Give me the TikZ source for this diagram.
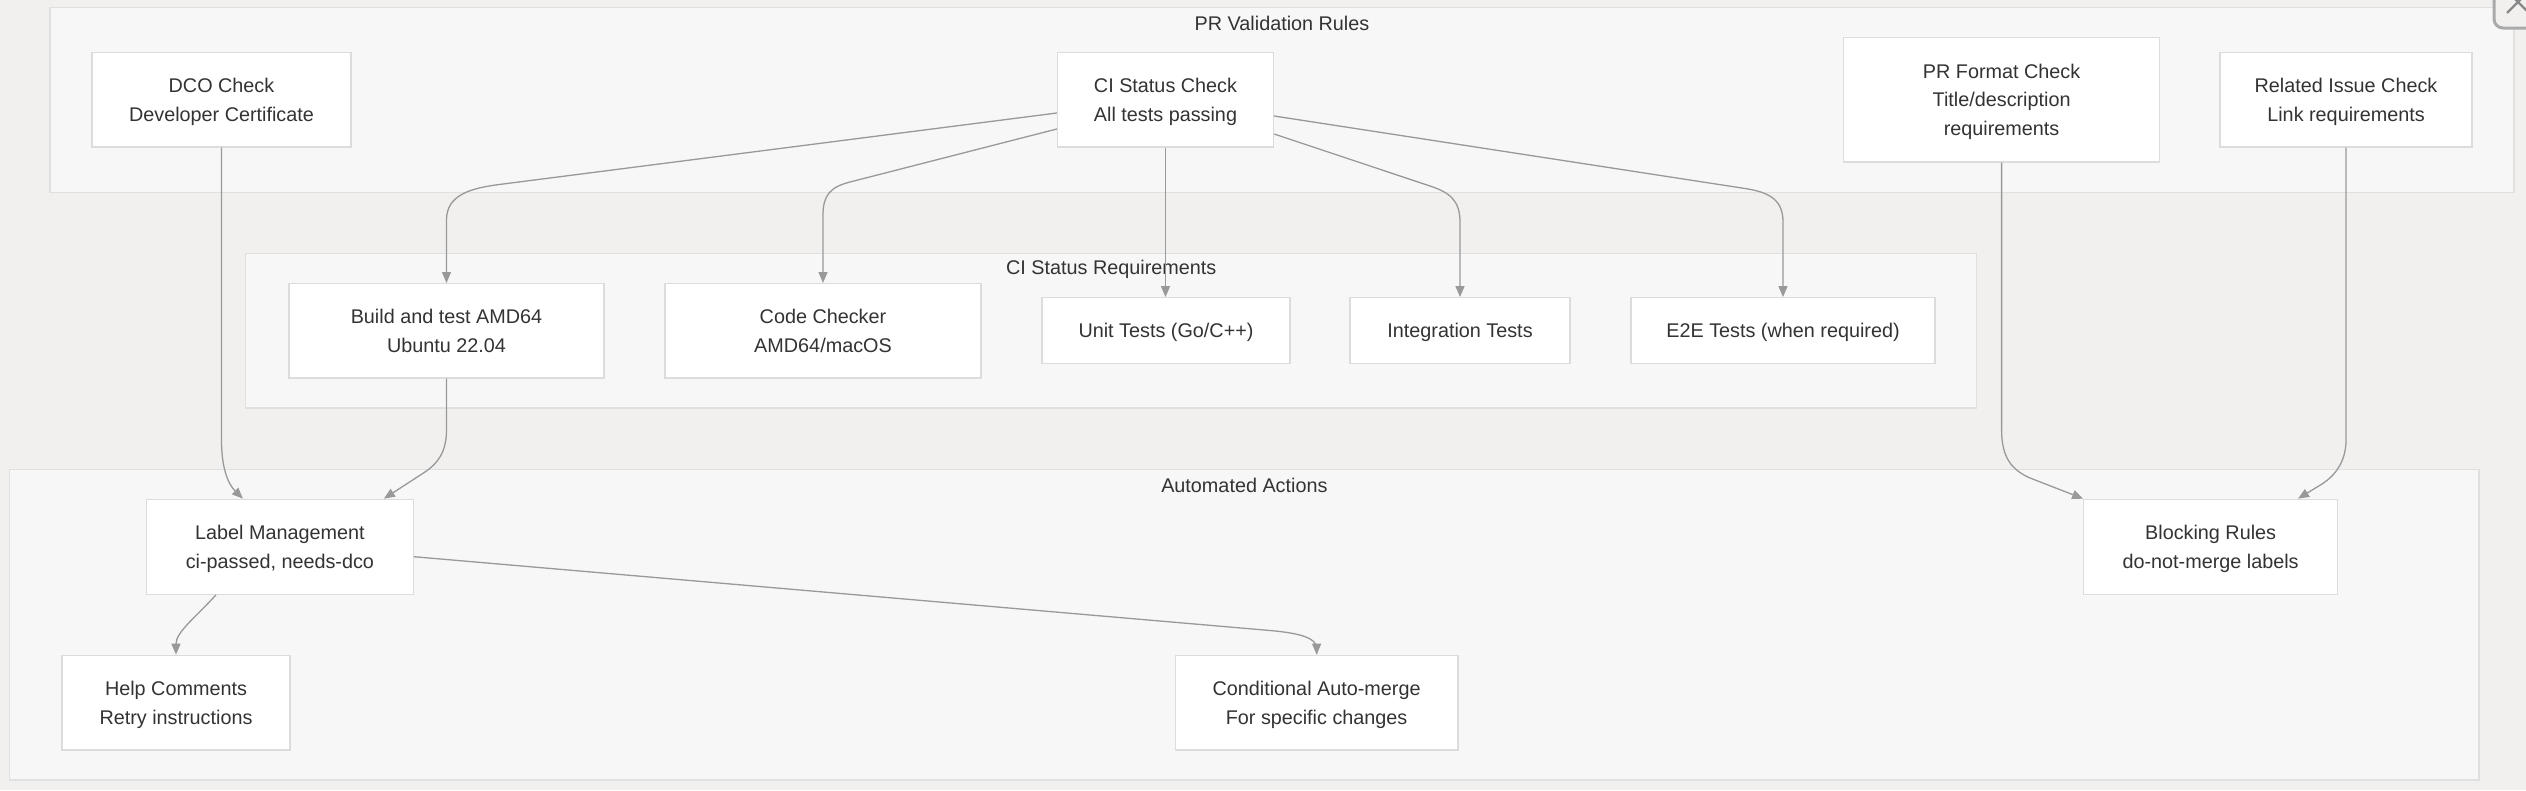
\documentclass[tikz,border=0pt]{standalone}
\usepackage{fontspec}
\setmainfont{Liberation Sans}
\usetikzlibrary{arrows.meta,calc}
\definecolor{bgc}{HTML}{F1F0EF}
\definecolor{clusterfill}{HTML}{F7F7F7}
\definecolor{clusterline}{HTML}{E0E0E0}
\definecolor{boxline}{HTML}{DCDCDC}
\definecolor{edgec}{HTML}{999999}
\definecolor{textc}{HTML}{333333}
\definecolor{widgetc}{HTML}{AAAAAA}
\tikzset{
  clusterbox/.style={draw=clusterline, fill=clusterfill, line width=1.3pt, inner sep=0pt},
  clustertitle/.style={text=textc, inner sep=0pt, font=\fontsize{19.8}{28.6}\selectfont},
  procbox/.style={draw=boxline, fill=white, line width=1.3pt, inner sep=0pt, align=center,
    text depth=0pt, text=textc, font=\fontsize{19.8}{28.6}\selectfont},
  flow/.style={draw=edgec, line width=1.3pt, -{Triangle[length=11pt,width=9pt]}},
}
\begin{document}
\begin{tikzpicture}[x=1pt,y=-1pt]
\useasboundingbox (0,0) rectangle (2526,790);
\fill[bgc] (0,0) rectangle (2526,790);

% clusters
\node[clusterbox, minimum width=2464pt, minimum height=185pt] (prv) at (1282,99.8) {};
\node[clustertitle] (prvt) at (1282,23.5) {PR Validation Rules};
\node[clusterbox, minimum width=1731pt, minimum height=154.7pt] (cir) at (1111.2,330.7) {};
\node[clustertitle] (cirt) at (1111.2,269) {CI Status Requirements};
\node[clusterbox, minimum width=2469.3pt, minimum height=310.7pt] (aut) at (1244.35,624.65) {};
\node[clustertitle] (autt) at (1244.35,485.5) {Automated Actions};

% PR validation nodes
\node[procbox, minimum width=259pt, minimum height=94.7pt] (dco) at (221.5,99.7) {DCO Check\\Developer Certificate};
\node[procbox, minimum width=216pt, minimum height=94.7pt] (ci) at (1165.5,99.7) {CI Status Check\\All tests passing};
\node[procbox, minimum width=315.7pt, minimum height=124.3pt] (prf) at (2001.6,99.8) {PR Format Check\\Title/description\\requirements};
\node[procbox, minimum width=252pt, minimum height=94.7pt] (rel) at (2346,99.7) {Related Issue Check\\Link requirements};

% CI requirement nodes
\node[procbox, minimum width=315pt, minimum height=94.3pt] (build) at (446.5,330.8) {Build and test AMD64\\Ubuntu 22.04};
\node[procbox, minimum width=316pt, minimum height=94.3pt] (code) at (823,330.8) {Code Checker\\AMD64/macOS};
\node[procbox, minimum width=248pt, minimum height=65.6pt] (unit) at (1166,330.5) {Unit Tests (Go/C++)};
\node[procbox, minimum width=220pt, minimum height=65.6pt] (integ) at (1460,330.5) {Integration Tests};
\node[procbox, minimum width=304pt, minimum height=65.6pt] (e2e) at (1783,330.5) {E2E Tests (when required)};

% automated actions nodes
\node[procbox, minimum width=266.6pt, minimum height=95pt] (lbl) at (279.9,546.8) {Label Management\\ci-passed, needs-dco};
\node[procbox, minimum width=253.7pt, minimum height=95pt] (blk) at (2210.6,546.8) {Blocking Rules\\do-not-merge labels};
\node[procbox, minimum width=228pt, minimum height=94.7pt] (help) at (176,702.7) {Help Comments\\Retry instructions};
\node[procbox, minimum width=282.8pt, minimum height=94.7pt] (cond) at (1316.6,702.7) {Conditional Auto-merge\\For specific changes};

% connectors
\draw[flow] ([yshift=-13.3pt]ci.west) -- (500,184.4) .. controls (470.2,188.2) and (446.5,195) .. (446.5,220) -- (build.north);
\draw[flow] ([yshift=-29.3pt]ci.west) -- (850,182) .. controls (830.6,186.9) and (823,195) .. (823,215) -- (code.north);
\draw[flow] (ci.south) -- (ci.south |- unit.north);
\draw[flow] ([yshift=-34.3pt]ci.east) -- (1430,186) .. controls (1449,192.3) and (1460,200) .. (1460,222) -- (integ.north);
\draw[flow] ([yshift=-16.3pt]ci.east) -- (1745,188.5) .. controls (1769.7,192.3) and (1783,200) .. (1783,222) -- (e2e.north);

\draw[flow] (dco.south) -- (221.5,440) .. controls (221.5,468) and (228,484) .. ([xshift=-37pt]lbl.north);
\draw[flow] (build.south) -- (446.5,430) .. controls (446.5,452) and (437.5,463.7) .. (425,472) -- ([xshift=104pt]lbl.north);

\draw[flow] (prf.south) -- (2001.6,430) .. controls (2001.6,458) and (2012,470) .. (2030,478) -- (blk.north west);
\draw[flow] (rel.south) -- (2346,440) .. controls (2346,462) and (2334.6,475.9) .. (2322,484) -- ([xshift=87.4pt]blk.north);

\draw[flow] ([xshift=-64pt]lbl.south) .. controls (195,618) and (176,632) .. (help.north);
\draw[flow] ([yshift=-9.9pt]lbl.east) -- (1270,630.5) .. controls (1299.9,633.1) and (1316.6,638) .. (1316.6,648) -- (cond.north);

% corner widget (partially visible close button)
\draw[widgetc, line width=3pt, fill=bgc, rounded corners=9pt] (2494,-20) rectangle (2560,28);
\draw[widgetc!80!black, line width=2.2pt] (2507,13) -- (2529,-9);
\draw[widgetc!80!black, line width=2.2pt] (2507,-9) -- (2529,13);
\end{tikzpicture}
\end{document}
